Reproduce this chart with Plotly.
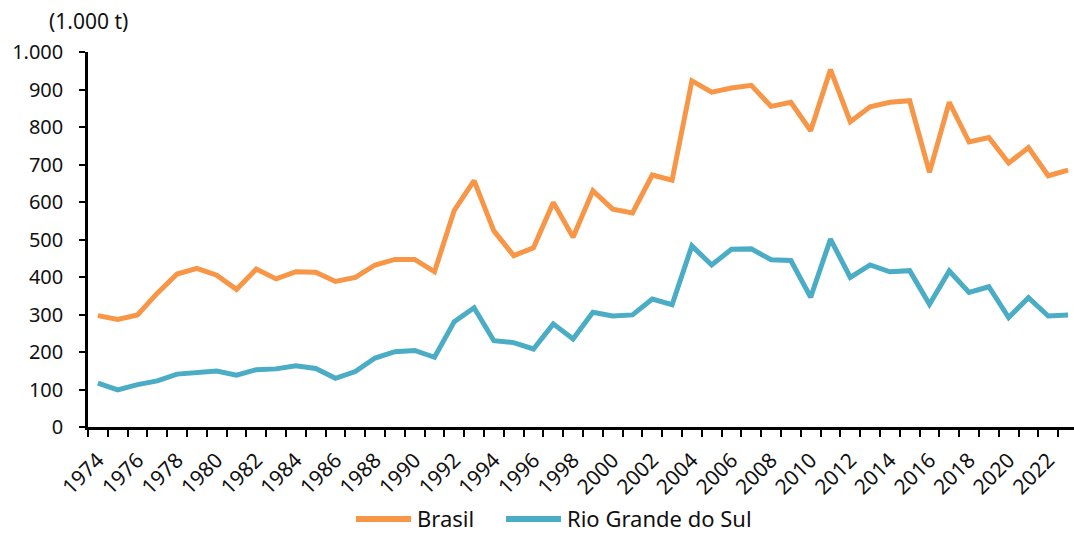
import plotly.graph_objects as go

years = list(range(1974, 2024))
brasil = [297, 287, 299, 357, 408, 423, 405, 367, 421, 395, 414, 413, 388, 399, 432, 447, 447, 414,
          578, 657, 523, 457, 478, 599, 506, 630, 581, 571, 672, 658,
          923, 893, 904, 911, 855, 866, 790, 953, 814, 854, 866, 870, 679, 866, 760, 772, 704, 745, 670, 685]
rgs = [117, 99, 113, 123, 141, 144, 149, 138, 153, 155, 163, 156, 130, 148, 184, 201, 204, 186,
       281, 318, 230, 225, 208, 275, 235, 306, 296, 299, 341, 326,
       483, 432, 474, 475, 446, 444, 346, 501, 399, 432, 414, 417, 327, 416, 359, 374, 292, 345, 296, 299]
series_names = ["Brasil", "Rio Grande do Sul"]
series_colors = ["#F79646", "#4BACC6"]
label_years = list(range(1974, 2024, 2))
y_ticks = list(range(0, 1001, 100))

FONT = "Noto Sans"
W, H = 1074, 533
L, R, T, B = 88, 0, 52, 106
pw, ph = W - L - R, H - T - B


def px_x(p):
    return (p - L) / pw


def px_y(p):
    return (H - B - p) / ph


fig = go.Figure()
for name, vals, col in zip(series_names, [brasil, rgs], series_colors):
    fig.add_trace(go.Scatter(x=years, y=vals, name=name, mode="lines",
                             line=dict(color=col, width=5), showlegend=False))

# legend drawn as swatch + text, below the axis
legend_swatch_px = [(356, 411), (506, 561)]
legend_text_px = [416, 566]
legend_y_px = 518
shapes = []
annotations = []
for (x0, x1), tx, name, col in zip(legend_swatch_px, legend_text_px, series_names, series_colors):
    shapes.append(dict(type="line", xref="paper", yref="paper",
                       x0=px_x(x0), x1=px_x(x1), y0=px_y(legend_y_px + 1), y1=px_y(legend_y_px + 1),
                       line=dict(color=col, width=6)))
    annotations.append(dict(text=name, x=px_x(tx), y=px_y(legend_y_px), xref="paper", yref="paper",
                            xanchor="left", yanchor="middle", showarrow=False, borderpad=0,
                            font=dict(size=22, family=FONT, color="#111111")))
annotations.append(dict(text="(1.000 t)", x=px_x(88.5), y=px_y(21), xref="paper", yref="paper",
                        xanchor="center", yanchor="middle", showarrow=False,
                        font=dict(size=21, family=FONT, color="#111111")))

fig.update_layout(
    width=W, height=H,
    paper_bgcolor="white", plot_bgcolor="white",
    margin=dict(l=L, r=R, t=T, b=B, autoexpand=False),
    separators=",.",
    font=dict(family=FONT, size=20, color="#111111"),
    showlegend=False,
    shapes=shapes,
    annotations=annotations,
)
fig.update_xaxes(
    range=[1973.5, 2023.3], tickvals=label_years, ticktext=[str(y) for y in label_years],
    tickangle=-45, ticks="", showgrid=False, zeroline=False, automargin=False,
    showline=True, linecolor="black", linewidth=2.5, ticklabelstandoff=10,
    minor=dict(ticks="outside", dtick=1, tick0=1973.5, ticklen=7, tickwidth=2, tickcolor="black", showgrid=False),
    tickfont=dict(size=21),
)
fig.update_yaxes(
    range=[0, 1000], tickvals=y_ticks, tickformat=",d", automargin=False,
    ticks="outside", ticklen=6, tickwidth=2, tickcolor="black", ticklabelstandoff=12,
    showgrid=False, zeroline=False, showline=True, linecolor="black", linewidth=2.5,
    tickfont=dict(size=20),
)
fig.write_html("out.html", config={"displayModeBar": False})

with open("out.html", "r", encoding="utf-8") as f:
    html = f.read()
html = html.replace("<body>", '<body style="margin:0;padding:0;overflow:hidden">', 1)
with open("out.html", "w", encoding="utf-8") as f:
    f.write(html)
